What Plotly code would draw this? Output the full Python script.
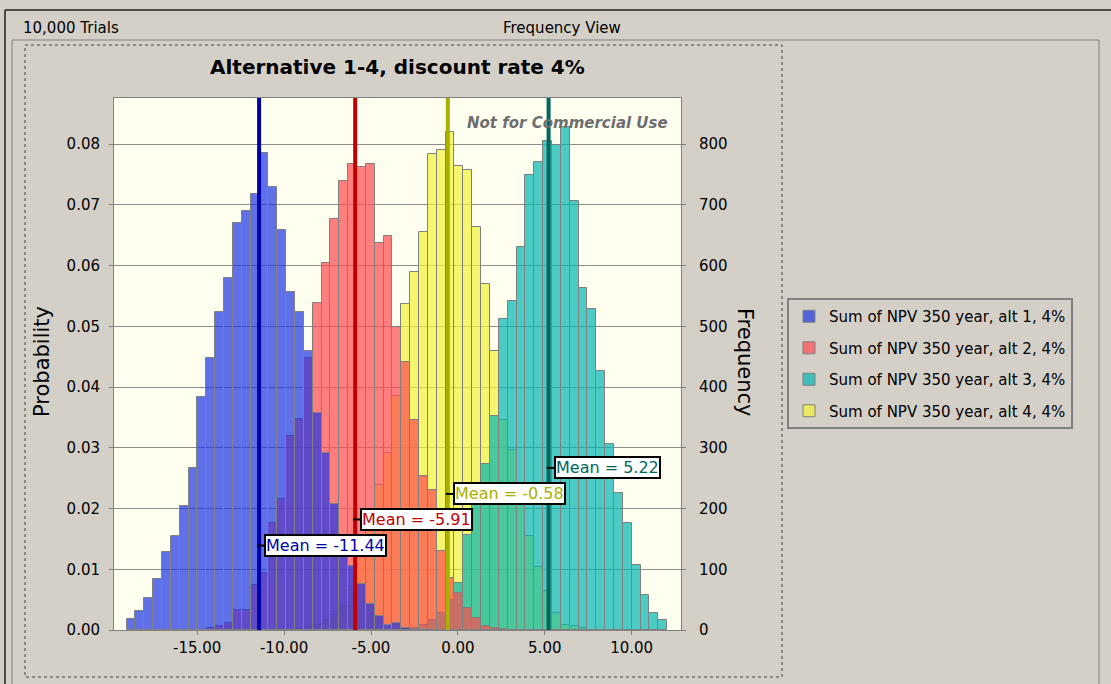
import numpy as np
import plotly.graph_objects as go

# ---------------- data ----------------
trials = 10000
bin_start = -19.07      # left edge of first histogram bin
bin_width = 0.5101      # common bin width for all four forecasts

series_names = [
    "Sum of NPV 350 year, alt 1, 4%",
    "Sum of NPV 350 year, alt 2, 4%",
    "Sum of NPV 350 year, alt 3, 4%",
    "Sum of NPV 350 year, alt 4, 4%",
]
means = [-11.44, -5.91, 5.22, -0.58]

alt1_first_bin = 0
alt1_freq = [18, 31, 52, 84, 129, 154, 205, 267, 384, 448,
             524, 579, 671, 690, 718, 785, 729, 658, 556, 523,
             459, 357, 291, 207, 150, 105, 75, 43, 23, 9,
             12, 4, 2]
alt2_first_bin = 9
alt2_freq = [4, 6, 11, 33, 33, 74, 94, 177, 216, 319,
             347, 448, 539, 605, 676, 740, 768, 763, 768, 637,
             648, 499, 442, 346, 253, 230, 130, 85, 61, 36,
             20, 6, 4, 2]
alt3_first_bin = 31
alt3_freq = [2, 4, 9, 17, 28, 50, 78, 157, 225, 273,
             352, 512, 542, 631, 749, 771, 805, 799, 829, 707,
             563, 529, 426, 307, 226, 176, 107, 57, 28, 17]
alt4_first_bin = 19
alt4_freq = [2, 5, 9, 15, 25, 40, 70, 120, 175, 239,
             291, 386, 537, 589, 655, 783, 791, 820, 764, 757,
             663, 570, 459, 345, 296, 220, 154, 104, 65, 28,
             9, 6, 4]

x_tick_vals = [-15, -10, -5, 0, 5, 10]
x_tick_text = ["-15.00", "-10.00", "-5.00", "0.00", "5.00", "10.00"]

# ---------------- styles / layout constants ----------------
fill_colors = ["rgba(28,51,229,0.7)", "rgba(255,72,79,0.7)",
               "rgba(0,181,176,0.7)", "rgba(241,241,54,0.7)"]
mean_colors = ["#0000A8", "#C00000", "#00665C", "#A8B000"]
label_heights = [0.0139, 0.0182, 0.0267, 0.0224]   # probability level of the mean labels
prob_top = 0.0876
x_range = [-19.79, 12.84]

W, H = 1111, 684
L, R, T, B = 114, 681, 98, 630   # plot area in pixels
FONT = "DejaVu Sans"


def px_x(px):
    return (px - L) / (R - L)


def px_y(py):
    return (B - py) / (B - T)


firsts = [alt1_first_bin, alt2_first_bin, alt3_first_bin, alt4_first_bin]
freqs = [alt1_freq, alt2_freq, alt3_freq, alt4_freq]

fig = go.Figure()

# draw order: alt 4 (bottom) ... alt 1 (top); legend order alt 1 .. alt 4
for k in [3, 2, 1, 0]:
    f = np.array(freqs[k], dtype=float)
    idx = firsts[k] + np.arange(len(f))
    centers = bin_start + (idx + 0.5) * bin_width
    fig.add_trace(go.Bar(
        x=centers, y=f / trials, width=bin_width,
        name=series_names[k], legendgroup=f"g{k}", legendrank=k + 1,
        marker=dict(color=fill_colors[k], line=dict(color="#808080", width=1)),
        hovertemplate="%{x:.2f}: %{y:.4f}<extra></extra>",
    ))

# invisible trace to carry the frequency axis
f = np.array(alt1_freq, dtype=float)
fig.add_trace(go.Scatter(
    x=bin_start + (alt1_first_bin + np.arange(len(f)) + 0.5) * bin_width,
    y=f, yaxis="y2", mode="lines", line=dict(width=0), opacity=0,
    showlegend=False, hoverinfo="skip"))

shapes = []
annotations = []

# mean lines and labels
for k in range(4):
    m = means[k]
    shapes.append(dict(type="line", xref="x", yref="paper", x0=m, x1=m, y0=0, y1=1,
                       line=dict(color=mean_colors[k], width=4), layer="above"))
    shapes.append(dict(type="line", xref="x", yref="y", xsizemode="pixel", xanchor=m,
                       x0=-2, x1=6, y0=label_heights[k], y1=label_heights[k],
                       line=dict(color="black", width=2), layer="above"))
    annotations.append(dict(
        x=m, y=label_heights[k], xref="x", yref="y", xanchor="left", yanchor="middle",
        xshift=5, showarrow=False, text=f"Mean = {m:.2f}",
        font=dict(family=FONT, size=16, color=mean_colors[k]),
        bgcolor="white", bordercolor="black", borderwidth=2, borderpad=0))

# watermark
annotations.append(dict(x=px_x(670), y=px_y(123), xref="paper", yref="paper",
                        xanchor="right", yanchor="middle", showarrow=False,
                        text="<b><i>Not for Commercial Use</i></b>",
                        font=dict(family=FONT, size=15, color="#6E6E6E")))
# title
annotations.append(dict(x=px_x(397), y=px_y(67), xref="paper", yref="paper",
                        xanchor="center", yanchor="middle", showarrow=False,
                        text="<b>Alternative 1-4, discount rate 4%</b>",
                        font=dict(family=FONT, size=20, color="black")))
# axis titles
annotations.append(dict(x=px_x(42), y=px_y(362), xref="paper", yref="paper",
                        xanchor="center", yanchor="middle", showarrow=False,
                        text="Probability", textangle=-90,
                        font=dict(family=FONT, size=21, color="black")))
annotations.append(dict(x=px_x(745), y=px_y(362), xref="paper", yref="paper",
                        xanchor="center", yanchor="middle", showarrow=False,
                        text="Frequency", textangle=90,
                        font=dict(family=FONT, size=21, color="black")))
# header
annotations.append(dict(x=px_x(21), y=px_y(28), xref="paper", yref="paper",
                        xanchor="left", yanchor="middle", showarrow=False,
                        text="10,000 Trials", font=dict(family=FONT, size=15, color="black")))
annotations.append(dict(x=px_x(562), y=px_y(28), xref="paper", yref="paper",
                        xanchor="center", yanchor="middle", showarrow=False,
                        text="Frequency View", font=dict(family=FONT, size=15, color="black")))

# window frames
shapes += [
    dict(type="line", xref="paper", yref="paper", x0=px_x(5), x1=px_x(1111), y0=px_y(10), y1=px_y(10),
         line=dict(color="#202020", width=1.5)),
    dict(type="line", xref="paper", yref="paper", x0=px_x(5), x1=px_x(5), y0=px_y(10), y1=px_y(684),
         line=dict(color="#202020", width=1.5)),
    dict(type="rect", xref="paper", yref="paper", x0=px_x(12), x1=px_x(1099), y0=px_y(40), y1=px_y(690),
         line=dict(color="#808080", width=1)),
    dict(type="rect", xref="paper", yref="paper", x0=px_x(25), x1=px_x(782), y0=px_y(45), y1=px_y(677),
         line=dict(color="#404040", width=1, dash="dot")),
]

axis_common = dict(ticks="outside", ticklen=4, tickcolor="#808080",
                   tickfont=dict(family=FONT, size=15, color="black"),
                   showline=True, linecolor="#808080", linewidth=1, zeroline=False)

fig.update_layout(
    width=W, height=H, autosize=False,
    margin=dict(l=L, r=W - R, t=T, b=H - B, pad=0),
    paper_bgcolor="#D4D0C8", plot_bgcolor="#FFFFF0",
    barmode="overlay", bargap=0,
    font=dict(family=FONT, size=15, color="black"),
    xaxis=dict(range=x_range, tickvals=x_tick_vals, ticktext=x_tick_text,
               showgrid=False, mirror=True, **axis_common),
    yaxis=dict(range=[0, prob_top], dtick=0.01, tickformat=".2f", ticklabelstandoff=6,
               showgrid=True, gridcolor="#8C8C8C", gridwidth=1, mirror=True, **axis_common),
    yaxis2=dict(range=[0, prob_top * trials], dtick=100, overlaying="y", side="right",
                ticklabelstandoff=10, showgrid=False, **axis_common),
    legend=dict(x=px_x(787), y=px_y(298), xanchor="left", yanchor="top",
                bgcolor="#D4D0C8", bordercolor="#808080", borderwidth=2,
                traceorder="grouped", tracegroupgap=9,
                font=dict(family=FONT, size=15, color="black")),
    shapes=shapes, annotations=annotations,
)

fig.write_html("out.html", config={"displayModeBar": False},
               post_script="document.body.style.margin='0px';")
